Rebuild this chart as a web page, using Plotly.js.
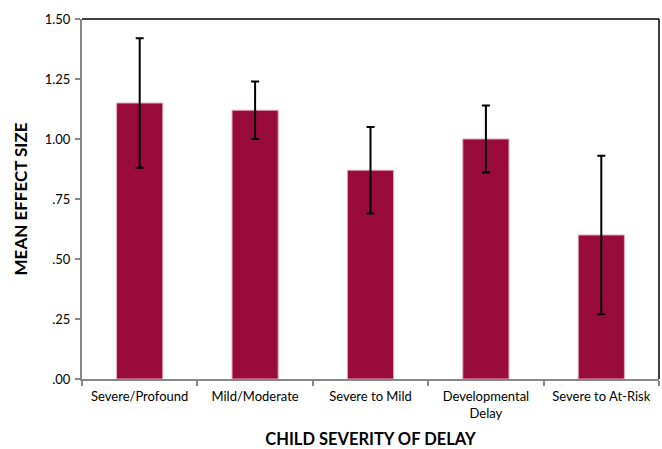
<!DOCTYPE html>
<html>
<head>
<meta charset="utf-8">
<script src="https://cdn.plot.ly/plotly-3.0.1.min.js"></script>
<style>html,body{margin:0;padding:0;background:#fff;}#chart{width:662px;height:449px;}</style>
</head>
<body>
<div id="chart"></div>
<script>
var categories = ["Severe/Profound", "Mild/Moderate", "Severe to Mild", "Developmental<br>Delay", "Severe to At-Risk"];
var meanEffect = [1.15, 1.12, 0.87, 1.00, 0.60];
var errorPlusMinus = [0.27, 0.12, 0.18, 0.14, 0.33];
var yTickVals = [0, 0.25, 0.5, 0.75, 1.0, 1.25, 1.5];
var yTickText = [".00", ".25", ".50", ".75", "1.00", "1.25", "1.50"];

var font = "Lato, 'Open Sans', sans-serif";

var trace = {
  type: "bar",
  x: categories,
  y: meanEffect,
  marker: {color: "#990B3A", line: {color: "#e2a9bb", width: 1}},
  error_y: {type: "data", array: errorPlusMinus, visible: true, color: "#000", thickness: 2, width: 4},
  hoverinfo: "none"
};

var layout = {
  width: 662, height: 449,
  margin: {l: 82, r: 3, t: 19, b: 70},
  paper_bgcolor: "#fff", plot_bgcolor: "#fff",
  showlegend: false,
  bargap: 0.6,
  font: {family: font, size: 13, color: "#000"},
  xaxis: {
    showline: true, linecolor: "#888", linewidth: 2,
    ticks: "outside", tickson: "boundaries", ticklen: 5, tickcolor: "#888", tickwidth: 2,
    ticklabelstandoff: 4,
    tickfont: {family: font, size: 13, color: "#000"},
    showgrid: false, zeroline: false,
    title: {text: "<b>CHILD SEVERITY OF DELAY</b>", font: {family: font, size: 16.5, color: "#000"}, standoff: 16}
  },
  yaxis: {
    range: [0, 1.5],
    tickvals: yTickVals, ticktext: yTickText,
    showline: true, linecolor: "#888", linewidth: 2,
    ticks: "outside", ticklen: 5, tickcolor: "#888", tickwidth: 2,
    ticklabelstandoff: 2,
    tickfont: {family: font, size: 13, color: "#000"},
    showgrid: false, zeroline: false,
    title: {text: "<b>MEAN EFFECT SIZE</b>", font: {family: font, size: 17, color: "#000"}, standoff: 13}
  },
  shapes: [
    {type: "line", xref: "paper", yref: "paper", x0: 0, x1: 1, y0: 1, y1: 1, line: {color: "#000", width: 1.5}},
    {type: "line", xref: "paper", yref: "paper", x0: 1, x1: 1, y0: 0, y1: 1, line: {color: "#000", width: 1.5}}
  ]
};

Plotly.newPlot("chart", [trace], layout, {displayModeBar: false, staticPlot: true});
</script>
</body>
</html>
